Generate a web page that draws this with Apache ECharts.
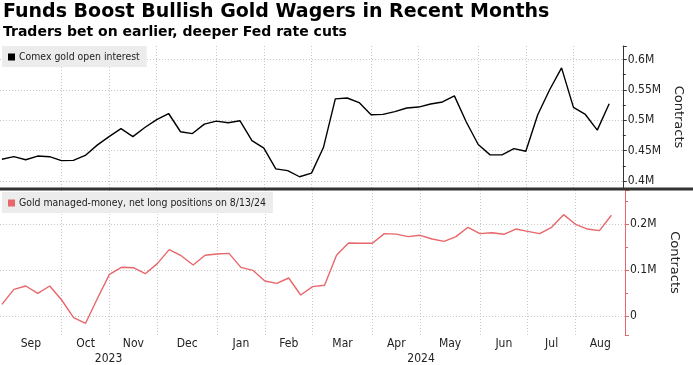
<!DOCTYPE html>
<html><head><meta charset="utf-8">
<script src="https://cdn.jsdelivr.net/npm/echarts@6/dist/echarts.min.js"></script>
<style>html,body{margin:0;padding:0;background:#fff}#c{width:693px;height:365px}</style>
</head><body><div id="c"></div>
<script>
// Weekly observations (category positions on the x axis)
const weekDates = [
 '2023-09-01','2023-09-08','2023-09-15','2023-09-22','2023-09-29',
 '2023-10-06','2023-10-13','2023-10-20','2023-10-27',
 '2023-11-03','2023-11-10','2023-11-17','2023-11-24',
 '2023-12-01','2023-12-08','2023-12-15','2023-12-22','2023-12-29',
 '2024-01-05','2024-01-12','2024-01-19','2024-01-26',
 '2024-02-02','2024-02-09','2024-02-16','2024-02-23',
 '2024-03-01','2024-03-08','2024-03-15','2024-03-22','2024-03-29',
 '2024-04-05','2024-04-12','2024-04-19','2024-04-26',
 '2024-05-03','2024-05-10','2024-05-17','2024-05-24','2024-05-31',
 '2024-06-07','2024-06-14','2024-06-21','2024-06-28',
 '2024-07-05','2024-07-12','2024-07-19','2024-07-26',
 '2024-08-02','2024-08-09','2024-08-16','2024-08-23'
];
// Comex gold open interest (contracts)
const openInterest = [
 435800,440000,435000,441000,440000,433500,434000,442000,459000,473000,
 486000,473000,488000,501000,511000,481000,478000,493500,498500,495700,
 499000,466500,454000,420000,417000,407000,413000,455000,535000,536500,
 529000,509000,509500,514000,520000,521600,526600,530000,540000,497000,
 460000,443000,443000,453300,449000,509000,550000,586000,521000,509400,
 483700,527000
];
// Gold managed-money net long positions (contracts)
const netLong = [
 25400,58000,65200,49300,65200,34800,-3700,-15900,38500,90600,
 105900,105000,92000,113800,144200,131000,110900,132000,134800,136200,
 105800,99300,76100,71000,82600,45700,63800,66700,132000,158700,
 158000,158000,179000,178000,172500,175400,167400,162300,172500,192800,
 179000,181000,177600,189000,184000,179000,192800,220300,199300,189000,
 185500,219000
];
const monthNames = ['Jan','Feb','Mar','Apr','May','Jun','Jul','Aug','Sep','Oct','Nov','Dec'];
const seriesNames = ['Comex gold open interest','Gold managed-money, net long positions on 8/13/24'];
const titleText = 'Funds Boost Bullish Gold Wagers in Recent Months';
const subtitleText = 'Traders bet on earlier, deeper Fed rate cuts';

const X_MIN = -0.16, X_MAX = 52.14;
const NARROW = "'DejaVu Sans Condensed','Liberation Sans Narrow',sans-serif";

// month groups from the dates
const monthStarts = [], monthCenters = [], monthLabelMap = {};
const yearStarts = {};
weekDates.forEach((d, i) => {
  if (i === 0 || d.slice(0,7) !== weekDates[i-1].slice(0,7)) {
    if (i > 0) monthStarts.push(i);
    const y = d.slice(0,4);
    if (!(y in yearStarts)) yearStarts[y] = i;
  }
});
const bounds = [X_MIN].concat(monthStarts).concat([X_MAX]);
const groupMonths = [weekDates[0]].concat(monthStarts.map(i => weekDates[i]));
groupMonths.forEach((d, k) => {
  const c = +((bounds[k] + bounds[k+1]) / 2).toFixed(3);
  monthCenters.push(c);
  monthLabelMap[c] = monthNames[+d.slice(5,7) - 1];
});
const years = Object.keys(yearStarts);
const yearCenters = [], yearLabelMap = {};
years.forEach((y, k) => {
  const a = k === 0 ? X_MIN : yearStarts[y];
  const b = k === years.length - 1 ? X_MAX : yearStarts[years[k+1]];
  const c = +((a + b) / 2).toFixed(3);
  yearCenters.push(c); yearLabelMap[c] = y;
});

const fmtM = v => v === 0 ? '0' : (+(v / 1e6).toFixed(3)) + 'M';
const gridLine = {show:true, showMinLine:false, showMaxLine:false, lineStyle:{color:'#c8c8c8', type:[1,2], width:1}};

function xAxisBase(gridIndex) {
  return {
    type:'value', gridIndex, min:X_MIN, max:X_MAX,
    axisLine:{show:false, onZero:false},
    axisTick:{show:false, customValues: monthStarts},
    splitLine:{show:true, lineStyle:{color:'#c8c8c8', type:[1,2], width:1}},
    axisLabel:{show:false}
  };
}
const xTop = xAxisBase(0);
const xBottom = xAxisBase(1);
xBottom.axisLabel = {show:true, customValues: monthCenters, formatter: v => monthLabelMap[+(+v).toFixed(3)] || '',
  margin:3, color:'#222', fontSize:12, fontFamily:NARROW};
const xYear = {
  type:'value', gridIndex:1, position:'bottom', min:X_MIN, max:X_MAX,
  axisLine:{show:false, onZero:false}, axisTick:{show:false}, splitLine:{show:false},
  axisLabel:{show:true, customValues: yearCenters, formatter: v => yearLabelMap[+(+v).toFixed(3)] || '',
    margin:18, color:'#222', fontSize:12, fontFamily:NARROW}
};

function yAxis(gridIndex, min, max, splitNumber, color, namePad) {
  return {
    type:'value', gridIndex, position:'right', min, max, splitNumber,
    axisLine:{show:true, onZero:false, lineStyle:{color, width:1}},
    axisTick:{show:true, inside:false, length:4, lineStyle:{color}},
    minorTick:{show:true, splitNumber:2, length:3, lineStyle:{color}},
    splitLine: gridLine,
    axisLabel:{showMinLabel:false, showMaxLabel:false, margin:5, formatter: fmtM,
      color:'#222', fontSize:12, fontFamily:NARROW},
    name:'Contracts', nameLocation:'middle', nameRotate:-90, nameGap:40,
    nameTextStyle:{color:'#222', fontSize:13, fontFamily:"'DejaVu Sans',sans-serif", padding:namePad}
  };
}

const legendBase = {
  orient:'horizontal', left:2, icon:'rect', itemWidth:7, itemHeight:7, itemGap:4,
  backgroundColor:'#ececec', padding:[6,7,5,6], selectedMode:false,
  textStyle:{color:'#222', fontSize:10.4, fontFamily:NARROW, padding:[0,0,0,-1]}
};

const chart = echarts.init(document.getElementById('c'), null, {renderer:'canvas'});
chart.setOption({
  animation:false,
  backgroundColor:'#fff',
  title:[
    {text:titleText, left:3, top:3, padding:0, textStyle:{fontFamily:"'DejaVu Sans',sans-serif", fontWeight:'bold', fontSize:19, color:'#000'}},
    {text:subtitleText, left:3, top:25, padding:0, textStyle:{fontFamily:"'DejaVu Sans',sans-serif", fontWeight:'bold', fontSize:14, color:'#000'}}
  ],
  grid:[
    {left:0, width:625, top:46, height:142},
    {left:0, width:625, top:190, height:145}
  ],
  legend:[
    Object.assign({}, legendBase, {top:46, data:[seriesNames[0]]}),
    Object.assign({}, legendBase, {top:192, data:[seriesNames[1]]})
  ],
  xAxis:[xTop, xBottom, xYear],
  yAxis:[
    yAxis(0, 388500, 622000, 5, '#333', 0),
    yAxis(1, -41300, 273900, 3, '#e8676b', [5,0,0,0])
  ],
  graphic:[
    {type:'rect', shape:{x:0, y:187.5, width:693, height:3}, style:{fill:'#333'}, z:100}
  ],
  series:[
    {name:seriesNames[0], type:'line', xAxisIndex:0, yAxisIndex:0, symbol:'none',
     data: openInterest.map((v,i)=>[i,v]), itemStyle:{color:'#000'}, lineStyle:{color:'#000', width:1.4}},
    {name:seriesNames[1], type:'line', xAxisIndex:1, yAxisIndex:1, symbol:'none',
     data: netLong.map((v,i)=>[i,v]), itemStyle:{color:'#e8676b'}, lineStyle:{color:'#e8676b', width:1.4}}
  ]
});
</script></body></html>
